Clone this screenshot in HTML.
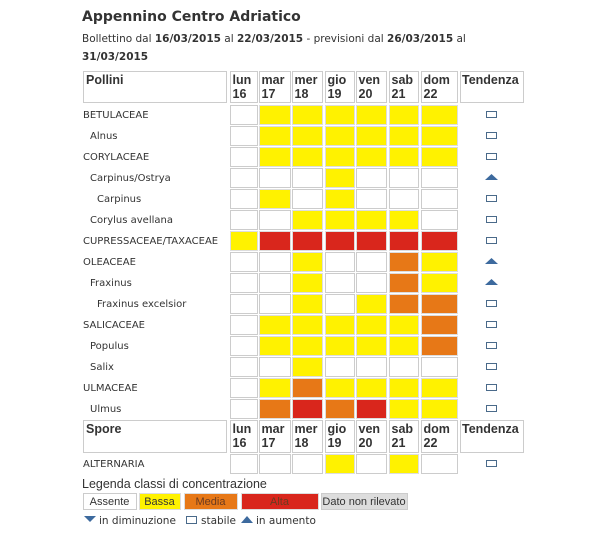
<!DOCTYPE html>
<html><head><meta charset="utf-8"><style>
body{margin:0;background:#fff;width:600px;height:541px;overflow:hidden}
svg{display:block}
text{font-family:"DejaVu Sans",sans-serif;fill:#333}
.h{font-family:"Liberation Sans",Arial,sans-serif;font-weight:bold;font-size:12.5px;fill:#333}
</style></head><body>
<svg id="s" width="600" height="541" xmlns="http://www.w3.org/2000/svg">
<text x="82" y="21" style="font-size:14px;font-weight:bold;fill:#333">Appennino Centro Adriatico</text>
<text x="82" y="42" style="font-size:10.5px">Bollettino dal <tspan font-weight="bold">16/03/2015</tspan> al <tspan font-weight="bold">22/03/2015</tspan> - previsioni dal <tspan font-weight="bold">26/03/2015</tspan> al</text>
<text x="82" y="60" style="font-size:10.5px;font-weight:bold">31/03/2015</text>
</svg>
<script>
var s=document.getElementById('s'),NS='http://www.w3.org/2000/svg';
function el(t,a,txt){var e=document.createElementNS(NS,t);for(var k in a)e.setAttribute(k,a[k]);if(txt)e.textContent=txt;s.appendChild(e);return e;}
var cols=[[230,257],[259,290],[292,322],[325,354],[356,386],[389,418],[421,457]];
var days=[['lun','16'],['mar','17'],['mer','18'],['gio','19'],['ven','20'],['sab','21'],['dom','22']];
function header(y0,y1,title){
 el('rect',{x:83.5,y:y0+.5,width:143,height:y1-y0,fill:'#fff',stroke:'#ccc'});
 el('text',{x:86,y:y0+13,'class':'h'},title);
 cols.forEach(function(c,i){el('rect',{x:c[0]+.5,y:y0+.5,width:c[1]-c[0],height:y1-y0,fill:'#fff',stroke:'#ccc'});
  el('text',{x:c[0]+2.5,y:y0+13,'class':'h'},days[i][0]);el('text',{x:c[0]+2.5,y:y0+27,'class':'h'},days[i][1]);});
 el('rect',{x:460.5,y:y0+.5,width:63,height:y1-y0,fill:'#fff',stroke:'#ccc'});
 el('text',{x:462,y:y0+13,'class':'h'},'Tendenza');
}
header(71,102,'Pollini');header(420,452,'Spore');
var C={W:'#fff',Y:'#fff200',O:'#e77817',R:'#d9261c'};
var rows=[['BETULACEAE',0,'WYYYYYY','s'],['Alnus',1,'WYYYYYY','s'],['CORYLACEAE',0,'WYYYYYY','s'],['Carpinus/Ostrya',1,'WWWYWWW','u'],['Carpinus',2,'WYWYWWW','s'],['Corylus avellana',1,'WWYYYYW','s'],['CUPRESSACEAE/TAXACEAE',0,'YRRRRRR','s'],['OLEACEAE',0,'WWYWWOY','u'],['Fraxinus',1,'WWYWWOY','u'],['Fraxinus excelsior',2,'WWYWYOO','s'],['SALICACEAE',0,'WYYYYYO','s'],['Populus',1,'WYYYYYO','s'],['Salix',1,'WWYWWWW','s'],['ULMACEAE',0,'WYOYYYY','s'],['Ulmus',1,'WORORYY','s']];
function row(r,cy){
 el('text',{x:83+r[1]*7,y:cy+4,style:'font-size:10px'},r[0]);
 cols.forEach(function(c,i){var k=r[2][i];el('rect',{x:c[0]+.5,y:cy-8.5,width:c[1]-c[0],height:19,fill:C[k],stroke:k=='W'?'#ccc':'#ddd'});});
 if(r[3]=='s')el('rect',{x:486.5,y:cy-2.5,width:10,height:6,fill:'none',stroke:'#4a6a8a'});
 else el('polygon',{points:'485,'+(cy+3)+' 498,'+(cy+3)+' 491.5,'+(cy-3),fill:'#3d6a9e'});
}
rows.forEach(function(r,i){row(r,114+21*i);});
row(['ALTERNARIA',0,'WWWYWYW','s'],463);
el('text',{x:82,y:488,style:'font-family:Liberation Sans,sans-serif;font-size:12.5px'},'Legenda classi di concentrazione');
var L=[[83,136,'#fff','Assente','#ccc'],[139,180,'#fff200','Bassa','#ddd'],[184,237,'#e77817','Media','#ddd'],[241,318,'#d9261c','Alta','#ddd'],[321,407,'#ddd','Dato non rilevato','#ccc']];
L.forEach(function(l){el('rect',{x:l[0]+.5,y:493.5,width:l[1]-l[0],height:16,fill:l[2],stroke:l[4]});
 el('text',{x:(l[0]+l[1])/2,y:505,'text-anchor':'middle',style:'font-family:Liberation Sans,sans-serif;font-size:11px;fill:'+(l[3]=='Alta'||l[3]=='Media'?'#6a3a20':'#333')},l[3]);});
el('polygon',{points:'84,516 96,516 90,522',fill:'#3d6a9e'});
el('text',{x:99,y:524,style:'font-size:10.5px'},'in diminuzione');
el('rect',{x:186.5,y:516.5,width:10,height:7,fill:'none',stroke:'#4a6a8a'});
el('text',{x:201,y:524,style:'font-size:10.5px'},'stabile');
el('polygon',{points:'241,523 253,523 247,516',fill:'#3d6a9e'});
el('text',{x:256,y:524,style:'font-size:10.5px'},'in aumento');
</script>
</body></html>
